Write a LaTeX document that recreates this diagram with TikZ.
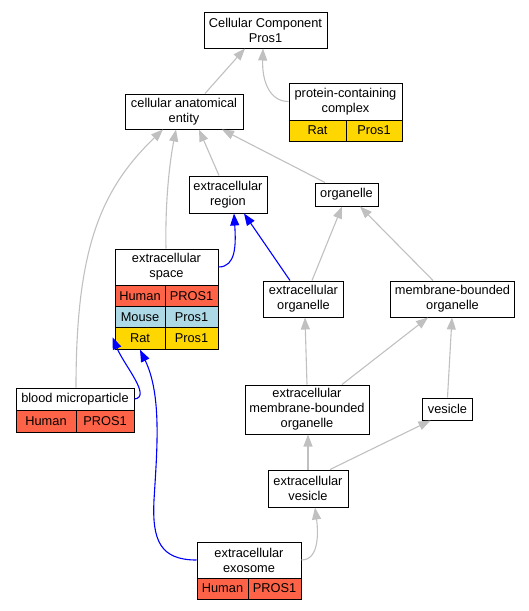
\documentclass[tikz,border=0pt]{standalone}
\usepackage{fontspec}
\newfontfamily\lsans{Liberation Sans}
\usetikzlibrary{arrows.meta}
\definecolor{human}{HTML}{FF6347}
\definecolor{mouse}{HTML}{ADD8E6}
\definecolor{rat}{HTML}{FFD700}
\definecolor{edgegray}{HTML}{C0C0C0}
\definecolor{edgeblue}{HTML}{0000FF}
\newcommand\fs{\lsans\fontsize{12.8}{15}\selectfont}
\tikzset{
  box/.style={draw=black, line width=1pt, fill=white, align=center, inner sep=0pt, font=\fs},
  cell/.style={draw=black, line width=1pt, inner sep=0pt, font=\fs, minimum height=21.5pt},
  humancell/.style={cell, fill=human},
  mousecell/.style={cell, fill=mouse},
  ratcell/.style={cell, fill=rat},
  garrow/.style={draw=edgegray, line width=1.1pt, -{Triangle[length=12pt,width=9pt]}},
  barrow/.style={draw=edgeblue, line width=1.1pt, -{Triangle[length=12pt,width=9pt]}}
}
\begin{document}
\begin{tikzpicture}[x=1pt,y=-1pt]
\useasboundingbox (0,0) rectangle (529,611);
% nodes
\node[box, minimum width=123pt, minimum height=36pt] (cc) at (265.5,30) {Cellular Component\\Pros1};
\node[box, minimum width=118pt, minimum height=35pt] (cae) at (184,111.5) {cellular anatomical\\entity};
\node[box, minimum width=113pt, minimum height=37pt] (pcc) at (345.5,101.5) {protein-containing\\complex};
\node[ratcell, minimum width=57pt, minimum height=21pt] (pcc-l) at (317.5,130.5) {Rat};
\node[ratcell, minimum width=56pt, minimum height=21pt] (pcc-r) at (374,130.5) {Pros1};
\node[box, minimum width=78pt, minimum height=37pt] (er) at (228,194.5) {extracellular\\region};
\node[box, minimum width=63pt, minimum height=23pt] (org) at (346.5,194.5) {organelle};
\node[box, minimum width=103pt, minimum height=36pt] (es) at (166.5,267) {extracellular\\space};
\node[humancell, minimum width=50pt] (es-h-l) at (140,295.75) {Human};
\node[humancell, minimum width=53pt] (es-h-r) at (191.5,295.75) {PROS1};
\node[mousecell, minimum width=50pt] (es-m-l) at (140,317.25) {Mouse};
\node[mousecell, minimum width=53pt] (es-m-r) at (191.5,317.25) {Pros1};
\node[ratcell, minimum width=50pt] (es-r-l) at (140,338.5) {Rat};
\node[ratcell, minimum width=53pt] (es-r-r) at (191.5,338.5) {Pros1};
\node[box, minimum width=80pt, minimum height=36pt] (eo) at (303.5,299) {extracellular\\organelle};
\node[box, minimum width=124pt, minimum height=36pt] (mbo) at (452.5,299) {membrane-bounded\\organelle};
\node[box, minimum width=118pt, minimum height=22pt] (bmp) at (75,399) {blood microparticle};
\node[humancell, minimum width=60pt, minimum height=22pt] (bmp-l) at (46,421) {Human};
\node[humancell, minimum width=58pt, minimum height=22pt] (bmp-r) at (105,421) {PROS1};
\node[box, minimum width=124pt, minimum height=49pt] (embo) at (307,409.5) {extracellular\\membrane-bounded\\organelle};
\node[box, minimum width=50pt, minimum height=22pt] (ves) at (447.5,409) {vesicle};
\node[box, minimum width=80pt, minimum height=37pt] (ev) at (308,488.5) {extracellular\\vesicle};
\node[box, minimum width=104pt, minimum height=36pt] (exo) at (249,560) {extracellular\\exosome};
\node[humancell, minimum width=51pt, minimum height=21pt] (exo-l) at (222.5,588.5) {Human};
\node[humancell, minimum width=53pt, minimum height=21pt] (exo-r) at (274.5,588.5) {PROS1};
% gray edges
\draw[garrow] ([xshift=21pt]cae.north) -- ([xshift=-20.5pt]cc.south);
\draw[garrow] (pcc.west) .. controls (270,101.5) and (262,82) .. ([xshift=-2.5pt]cc.south);
\draw[garrow] ([xshift=-9pt]er.north) -- ([xshift=15pt]cae.south);
\draw[garrow] ([xshift=-21.5pt]org.north) -- ([xshift=38pt]cae.south);
\draw[garrow] ([xshift=-0.5pt]es.north) .. controls (165,200) and (170,160) .. ([xshift=-8pt]cae.south);
\draw[garrow] ([xshift=1pt]bmp.north) .. controls (76,250) and (100,190) .. ([xshift=-21pt]cae.south);
\draw[garrow] ([xshift=8.5pt]eo.north) -- ([xshift=-4.5pt]org.south);
\draw[garrow] ([xshift=-19.5pt]mbo.north) -- ([xshift=13.5pt]org.south);
\draw[garrow] (embo.north) -- ([xshift=1.5pt]eo.south);
\draw[garrow] ([xshift=35pt]embo.north) -- ([xshift=-24.5pt]mbo.south);
\draw[garrow] (ves.north) -- ([xshift=-0.5pt]mbo.south);
\draw[garrow] (ev.north) -- ([xshift=1pt]embo.south);
\draw[garrow] ([xshift=22pt]ev.north) -- ([xshift=-17pt]ves.south);
\draw[garrow] (exo.east) .. controls (320,560) and (318,530) .. ([xshift=7pt]ev.south);
% blue edges
\draw[barrow] (es.east) .. controls (236,267) and (236,245) .. ([xshift=6pt]er.south);
\draw[barrow] ([xshift=-13.5pt]eo.north) -- ([xshift=16pt]er.south);
\draw[barrow] (bmp.east) .. controls (152,397) and (124,365) .. ([xshift=-2pt,yshift=-10pt]es-r-l.north west);
\draw[barrow] (exo.west) .. controls (160,560) and (152,540) .. (154,500) .. controls (157,450) and (162,395) .. (es-r-l.south);
\end{tikzpicture}
\end{document}
